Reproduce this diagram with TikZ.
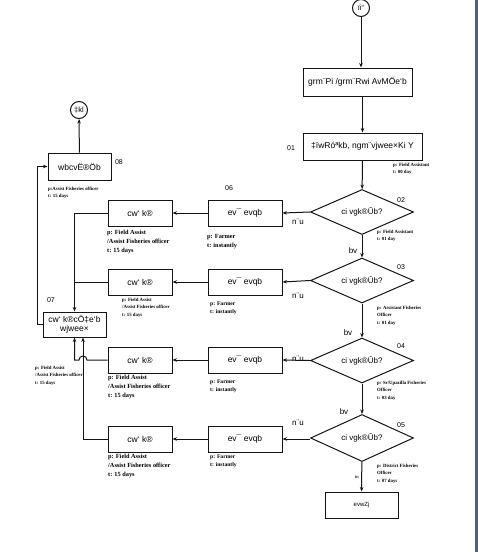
\documentclass[tikz,border=0pt]{standalone}
\usepackage{fontspec}
\setmainfont{Liberation Sans}
\newfontfamily\annfont{Liberation Serif}
\usepackage{xcolor}
\usepackage{tikz}
\usetikzlibrary{
  shapes.geometric,
  arrows.meta,
  positioning,
  calc
}
\definecolor{LineBlack}{RGB}{20,20,20}
\definecolor{EdgeSlate}{RGB}{78,96,124}
\tikzset{
  %%── 流程节点 ─────────────────────────────────────────────
  box/.style = {
    rectangle, draw = LineBlack, fill = white, line width = 1pt,
    inner sep = 1pt, align = center, font = \fontsize{8.5}{10}\selectfont
  },
  cond/.style = {
    diamond, draw = LineBlack, fill = white, line width = 1pt,
    minimum width = 103pt, minimum height = 45pt, inner sep = 0pt,
    aspect = 2.3, font = \fontsize{8}{9}\selectfont
  },
  term/.style = {
    circle, draw = LineBlack, fill = white, line width = 1pt,
    minimum size = 17pt, inner sep = 0pt, font = \fontsize{7.5}{8}\selectfont
  },
  %%── 文字标注 ─────────────────────────────────────────────
  num/.style    = {inner sep = 0pt, font = \fontsize{7}{8}\selectfont},
  yesno/.style  = {inner sep = 0pt, font = \fontsize{8}{9}\selectfont},
  annbig/.style = {anchor = north west, inner sep = 0pt, align = left,
                   font = \annfont\bfseries\fontsize{6.3}{8.8}\selectfont},
  annmid/.style = {anchor = north west, inner sep = 0pt, align = left,
                   font = \annfont\bfseries\fontsize{5.6}{8}\selectfont},
  annsml/.style = {anchor = north west, inner sep = 0pt, align = left,
                   font = \annfont\bfseries\fontsize{4.8}{7.4}\selectfont},
  %%── 箭头 ─────────────────────────────────────────────────
  arr/.style  = {-{Stealth[length=4.5pt,width=3.5pt]}, line width = 1pt, color = LineBlack},
  lnk/.style  = {line width = 1pt, color = LineBlack},
}
\begin{document}
\begin{tikzpicture}[x=1pt, y=-1pt]

  %% 画布
  \useasboundingbox (0,0) rectangle (478,552);
  \fill[white] (0,0) rectangle (478,552);
  \fill[EdgeSlate] (475,0) rectangle (478,552);

  %% ── 主流程 ───────────────────────────────────────────
  \node[term] (start) at (361,8) {ïi“};
  \node[box, minimum width = 109pt, minimum height = 28pt] (apply) at (357.5,82)
    {grm¨Pi /grm¨Rwi AvMÖe`b};
  \node[box, minimum width = 119pt, minimum height = 27pt] (reg) at (362.5,146.5)
    {‡ïwRóªkb, ngm¨vjwee×Ki Y};
  \node[cond] (chk1) at (362,212)   {ci vgk®Ûb?};
  \node[cond] (chk2) at (362,280.5) {ci vgk®Ûb?};
  \node[cond] (chk3) at (362,360.5) {ci vgk®Ûb?};
  \node[cond, minimum height = 47pt] (chk4) at (362,438) {ci vgk®Ûb?};
  \node[box, minimum width = 73pt, minimum height = 26pt,
        font = \fontsize{6}{7}\selectfont] (reject) at (361.5,505) {evwZj};

  %% ── 左侧：ev¯ evqb / cw` k® ──────────────────────────
  \foreach \r/\y in {1/213, 2/282, 3/360, 4/439}{
    \node[box, minimum width = 74pt, minimum height = 26pt] (fix\r) at (245,\y) {ev¯ evqb};
    \node[box, minimum width = 64pt, minimum height = 26pt] (insp\r) at (140,\y) {cw` k®};
  }

  %% ── 报告 / 结束 ───────────────────────────────────────
  \node[box, minimum width = 63pt, minimum height = 25pt,
        font = \fontsize{8.5}{9.5}\selectfont] (report) at (74.5,324.5)
    {cw` k®cÖ‡e`b\\wjwee×};
  \node[box, minimum width = 63pt, minimum height = 27pt] (final) at (79.5,166.5) {wbcvË®Öb};
  \node[term] (stop) at (79,110) {‡kl};

  %% ── 编号 ─────────────────────────────────────────────
  \node[num] at (291,148) {01};
  \node[num] at (401,200) {02};
  \node[num] at (401,267) {03};
  \node[num] at (401,346) {04};
  \node[num] at (401,425) {05};
  \node[num] at (229,188) {06};
  \node[num] at (51,300)  {07};
  \node[num] at (119,162) {08};

  %% ── 是 / 否 ───────────────────────────────────────────
  \node[yesno] at (298,222) {n¨u};
  \node[yesno] at (298,296) {n¨u};
  \node[yesno, fill = white, inner sep = 0.5pt] at (298,359) {n¨u};
  \node[yesno] at (298,423) {n¨u};
  \node[yesno] at (353,251) {bv};
  \node[yesno] at (348,333) {bv};
  \node[yesno] at (344,412) {bv};
  \node[yesno, font = \fontsize{4}{5}\selectfont] at (357,477) {bv};

  %% ── 人员与时间 ───────────────────────────────────────
  \node[annsml] at (393,163) {p: Field Assistant\\t: 00 day};
  \node[annsml] at (377,230) {p: Field Assistant\\t: 01 day};
  \node[annsml] at (377,306) {p: Assistant Fisheries\\Officer\\t: 01 day};
  \node[annsml] at (377,381) {p: Sr/Upazilla Fisheries\\Officer\\t: 03 day};
  \node[annsml] at (377,464) {p: District Fisheries\\Officer\\t: 07 days};
  \node[annbig] at (207,234) {p: Farmer\\t: instantly};
  \node[annmid] at (210,302) {p: Farmer\\t: instantly};
  \node[annmid] at (210,380) {p: Farmer\\t: instantly};
  \node[annmid] at (210,455) {p: Farmer\\t: instantly};
  \node[annbig] at (107,230) {p: Field Assist\\/Assist Fisheries officer\\t: 15 days};
  \node[annsml] at (122,298) {p: Field Assist\\/Assist Fisheries officer\\t: 15 days};
  \node[annbig] at (108,375) {p: Field Assist\\/Assist Fisheries officer\\t: 15 days};
  \node[annbig] at (108,454) {p: Field Assist\\/Assist Fisheries officer\\t: 15 days};
  \node[annsml] at (35,366)  {p: Field Assist\\/Assist Fisheries officer\\t: 15 days};
  \node[annsml] at (48,187)  {p:Assist Fisheries officer\\t: 15 days};

  %% ── 箭头 ──────────────────────────────────────────────
  \draw[arr] (start.south) -- (start.south |- apply.north);
  \draw[arr] (apply.south -| reg.north) -- (reg.north);
  \draw[arr] (reg)    -- (chk1);
  \draw[arr] (chk1)   -- (chk2);
  \draw[arr] (chk2)   -- (chk3);
  \draw[arr] (chk3)   -- (chk4);
  \draw[arr] (chk4)   -- (reject);
  \draw[arr] (chk1.west) -- (fix1.east);
  \draw[arr] (chk2.west) -- (fix2.east);
  \draw[arr] (chk3.west) -- (fix3.east);
  \draw[arr] (chk4.west |- fix4.east) -- (fix4.east);
  \foreach \r in {1,...,4}
    \draw[arr] (fix\r.west) -- (insp\r.east);

  %% 汇入报告
  \coordinate (hop) at (83,360);
  \draw[arr] (insp1.west) -| (report.north);
  \draw[lnk] (insp2.west) -- (insp2.west -| report.north);
  \draw[arr] (insp3.west) -- ([xshift=4pt]hop)
    arc[start angle=0, end angle=180, radius=4pt]
    -| (report.south);
  \draw[arr] (insp4.west) -| (report.south -| hop);

  %% 报告 → 终结
  \draw[arr] (report.west) -- ++(-5,0) |- (final.west);
  \draw[arr] (final)  -- (stop);

\end{tikzpicture}
\end{document}
